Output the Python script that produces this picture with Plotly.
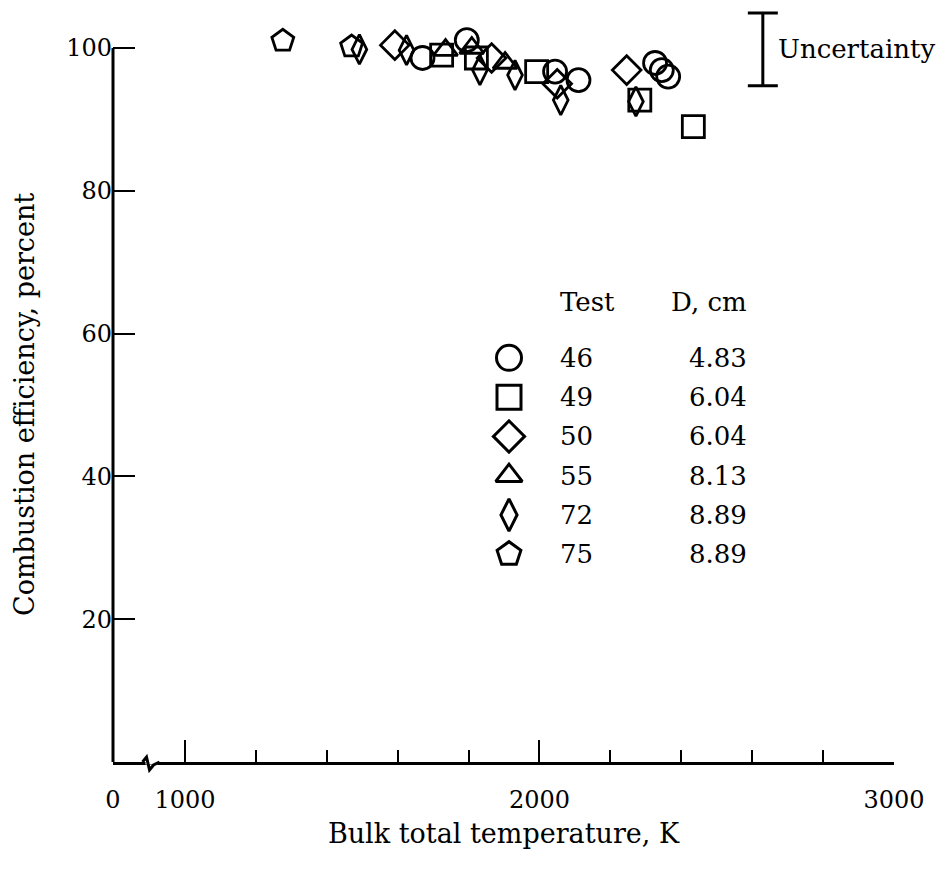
import plotly.graph_objects as go

# data (bulk total temperature K, combustion efficiency %)
t46_x = [1670, 1795, 2044, 2110, 2326, 2345, 2363]
t46_y = [98.6, 101.1, 96.7, 95.5, 97.9, 96.9, 96.0]
t49_x = [1724, 1822, 1992, 2283, 2434]
t49_y = [99.0, 98.6, 96.7, 92.7, 89.0]
t50_x = [1592, 1865, 2050, 2246]
t50_y = [100.4, 98.6, 95.0, 96.9]
t55_x = [1735, 1809, 1903]
t55_y = [99.7, 100.0, 97.9]
t72_x = [1492, 1625, 1832, 1931, 2060, 2272]
t72_y = [99.8, 99.7, 96.9, 96.2, 92.7, 92.5]
t75_x = [1276, 1470]
t75_y = [101.0, 100.2]

tests = ["46", "49", "50", "55", "72", "75"]
diams = ["4.83", "6.04", "6.04", "8.13", "8.89", "8.89"]
symbols = ["circle-open", "square-open", "diamond-open", "triangle-up-open",
           "diamond-tall-open", "pentagon-open"]
sizes = [23, 22, 22, 21, 21, 23]

uncert_x = 2630
uncert_y = 99.8
uncert_half = 5.1

x_ticks = [797, 1000, 2000, 3000]
x_ticktext = ["0", "1000", "2000", "3000"]
x_minor = [1200, 1400, 1600, 1800, 2200, 2400, 2600, 2800]
y_ticks = [20, 40, 60, 80, 100]

FONT = "DejaVu Serif"
fs_tick = 24
fs_text = 26
fs_title = 27

series = [(t46_x, t46_y), (t49_x, t49_y), (t50_x, t50_y),
          (t55_x, t55_y), (t72_x, t72_y), (t75_x, t75_y)]

fig = go.Figure()
for (xs, ys), sym, sz in zip(series, symbols, sizes):
    fig.add_trace(go.Scatter(x=xs, y=ys, mode="markers",
                             marker=dict(symbol=sym, size=sz, color="black",
                                         line=dict(color="black", width=2.8)),
                             showlegend=False, cliponaxis=False))

# uncertainty bar
fig.add_trace(go.Scatter(x=[uncert_x], y=[uncert_y], mode="markers",
                         marker=dict(size=1, opacity=0),
                         error_y=dict(type="data", array=[uncert_half], color="black",
                                      thickness=3, width=15),
                         showlegend=False))
fig.add_annotation(x=uncert_x, y=uncert_y, text="Uncertainty", showarrow=False,
                   xanchor="left", xshift=13, font=dict(family=FONT, size=fs_text, color="black"))

# hand-made key, one trace per symbol
key_x, num_x, d_x = 1914, 2052, 2590
key_top, key_step = 56.6, 5.5
key_y = [key_top - i * key_step for i in range(len(tests))]
for sym, sz, yy in zip(symbols, sizes, key_y):
    fig.add_trace(go.Scatter(x=[key_x], y=[yy], mode="markers",
                             marker=dict(symbol=sym, size=sz + 2, color="black",
                                         line=dict(color="black", width=3)),
                             showlegend=False))
fig.add_annotation(x=num_x, y=key_top + 7.8, text="Test", showarrow=False, xanchor="left",
                   font=dict(family=FONT, size=fs_text, color="black"))
fig.add_annotation(x=d_x, y=key_top + 7.8, text="D, cm", showarrow=False, xanchor="right",
                   font=dict(family=FONT, size=fs_text, color="black"))
for t, d, yy in zip(tests, diams, key_y):
    fig.add_annotation(x=num_x, y=yy, text=t, showarrow=False, xanchor="left",
                       font=dict(family=FONT, size=fs_text, color="black"))
    fig.add_annotation(x=d_x, y=yy, text=d, showarrow=False, xanchor="right",
                       font=dict(family=FONT, size=fs_text, color="black"))

# y title centred on the 0-100 span
fig.add_annotation(xref="paper", x=0, xshift=-88, y=50, text="Combustion efficiency, percent",
                   textangle=-90, showarrow=False, xanchor="center",
                   font=dict(family=FONT, size=fs_title, color="black"))

# y axis line stops at 100
fig.add_shape(type="line", xref="paper", yref="y", x0=0, x1=0, y0=0, y1=100,
              line=dict(color="black", width=3))
# axis break: blank out a bit of the axis, then draw the zigzag
fig.add_shape(type="line", xref="x", yref="paper", xsizemode="pixel", ysizemode="pixel",
              xanchor=900, yanchor=0, x0=-4, x1=8, y0=0, y1=0,
              line=dict(color="white", width=5))
fig.add_shape(type="path", xref="x", yref="paper", xsizemode="pixel", ysizemode="pixel",
              xanchor=900, yanchor=0, path="M -7,0 L -3,5 L 0,-8 L 4,-3 L 10,0",
              line=dict(color="black", width=3), fillcolor="rgba(0,0,0,0)")

fig.update_layout(
    width=938, height=869,
    margin=dict(l=105, r=52, t=0, b=115),
    plot_bgcolor="white", paper_bgcolor="white",
    font=dict(family=FONT, size=fs_tick, color="black"),
    xaxis=dict(range=[797, 3000], showgrid=False, zeroline=False, automargin=False,
               showline=True, linecolor="black", linewidth=3,
               tickmode="array", tickvals=x_ticks, ticktext=x_ticktext,
               ticks="inside", ticklen=22, tickwidth=2, tickcolor="black",
               ticklabelstandoff=14,
               minor=dict(tickvals=x_minor, ticks="inside", ticklen=12,
                          tickwidth=2, tickcolor="black"),
               title=dict(text="Bulk total temperature, K", standoff=12,
                          font=dict(family=FONT, size=fs_title))),
    yaxis=dict(range=[0, 105.6], showgrid=False, zeroline=False, showline=False,
               automargin=False,
               tickmode="array", tickvals=y_ticks,
               ticks="inside", ticklen=22, tickwidth=2, tickcolor="black"),
)

fig.write_html("out.html")
